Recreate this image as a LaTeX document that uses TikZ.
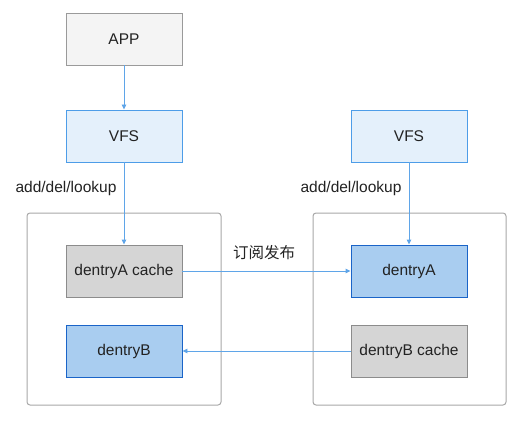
\documentclass[tikz,border=0pt]{standalone}
\usepackage{fontspec}
\setmainfont{Liberation Sans}
\newfontfamily\cjk{Noto Sans CJK SC}
\usetikzlibrary{arrows.meta}
\definecolor{appfill}{HTML}{F4F4F4}
\definecolor{appdraw}{HTML}{9A9A9A}
\definecolor{vfsfill}{HTML}{E4F0FB}
\definecolor{vfsdraw}{HTML}{4D9DE8}
\definecolor{dfill}{HTML}{A9CDF0}
\definecolor{ddraw}{HTML}{1A64C8}
\definecolor{cfill}{HTML}{D5D5D5}
\definecolor{cdraw}{HTML}{8C8C8C}
\definecolor{contdraw}{HTML}{A8A8A8}
\definecolor{arrowc}{HTML}{5FA5E8}
\definecolor{txt}{HTML}{222222}
\tikzset{
  box/.style={minimum width=116pt, minimum height=52pt, inner sep=0pt, line width=0.9pt, font=\fontsize{15.5pt}{18pt}\selectfont, text=txt},
  appbox/.style={box, fill=appfill, draw=appdraw},
  vfsbox/.style={box, fill=vfsfill, draw=vfsdraw},
  dbox/.style={box, fill=dfill, draw=ddraw},
  cbox/.style={box, fill=cfill, draw=cdraw},
  cont/.style={draw=contdraw, line width=1pt, rounded corners=3pt},
  conn/.style={draw=arrowc, line width=0.9pt, -{Triangle[length=5pt,width=4.5pt]}},
  lbl/.style={font=\fontsize{15.5pt}{18pt}\selectfont, text=txt, inner sep=0pt}
}
\begin{document}
\begin{tikzpicture}[x=1pt,y=-1pt]
\useasboundingbox (0,0) rectangle (527,422);
\draw[cont] (27,213) rectangle (221,405);
\draw[cont] (313,213) rectangle (506,405);
\node[appbox] (app) at (124,39) {APP};
\node[vfsbox] (vfs1) at (124,136) {VFS};
\node[vfsbox] (vfs2) at (409,136) {VFS};
\node[cbox] (ac) at (124,271) {dentryA cache};
\node[dbox] (b) at (124,351) {dentryB};
\node[dbox] (a) at (409,271) {dentryA};
\node[cbox] (bc) at (409,351) {dentryB cache};
\node[lbl] (l1) at (66,188) {add/del/lookup};
\node[lbl] (l2) at (351,188) {add/del/lookup};
\node[lbl] (l3) at (264,253) {\cjk 订阅发布};
\draw[conn] (app) -- (vfs1);
\draw[conn] (vfs1) -- (ac);
\draw[conn] (vfs2) -- (a);
\draw[conn] (ac) -- (a);
\draw[conn] (bc) -- (b);
\end{tikzpicture}
\end{document}
